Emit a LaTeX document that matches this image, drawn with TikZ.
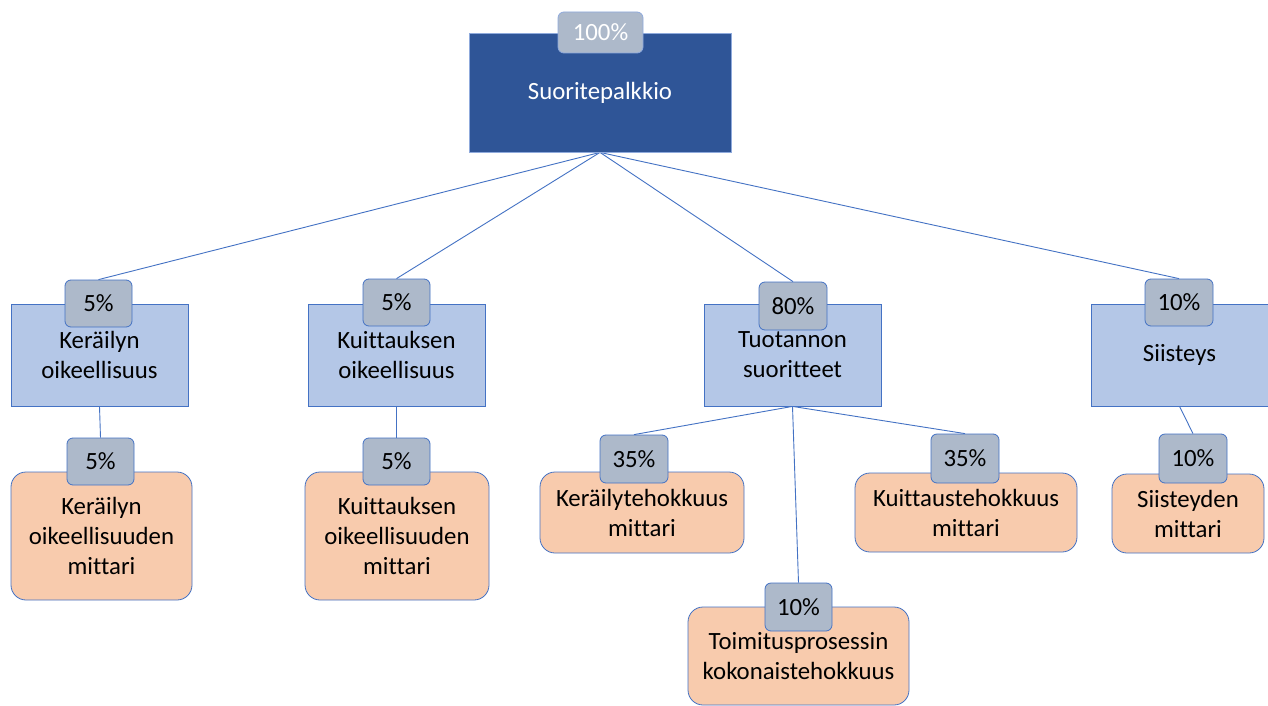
\documentclass[tikz,border=0pt]{standalone}
\usepackage{fontspec}
\setmainfont[Ligatures=NoCommon,RawFeature={-liga;-clig;-calt;-dlig}]{Carlito}
\usetikzlibrary{backgrounds}
\definecolor{darkblue}{HTML}{2F5597}
\definecolor{midblue}{HTML}{4472C4}
\definecolor{paleblue}{HTML}{B4C7E7}
\definecolor{lightedge}{HTML}{8FAADC}
\definecolor{badgegray}{HTML}{ADB9CA}
\definecolor{peach}{HTML}{F8CBAD}
\begin{document}
\begin{tikzpicture}[x=1pt,y=-1pt,
  every node/.style={inner sep=0pt,align=center,font=\fontsize{24.8}{30}\selectfont},
  topbox/.style={rectangle,fill=darkblue,draw=lightedge,line width=0.8pt,text=white,minimum width=262pt,minimum height=119pt},
  midbox/.style={rectangle,fill=paleblue,draw=midblue,line width=0.8pt,minimum width=177pt,minimum height=102pt},
  leafbox/.style={rectangle,rounded corners=15pt,fill=peach,draw=midblue,line width=0.8pt},
  badge/.style={rectangle,rounded corners=6pt,fill=badgegray,draw=midblue,line width=0.8pt,minimum width=67pt,minimum height=47pt},
  link/.style={draw=midblue,line width=0.9pt}]
\clip (0,0) rectangle (1268,706);

% boxes
\node[topbox] (top) at (600,92.5) {Suoritepalkkio};
\node[midbox] (ka) at (99.5,355) {Keräilyn\\oikeellisuus};
\node[midbox] (ku) at (396.5,355) {Kuittauksen\\oikeellisuus};
\node[midbox] (tu) at (792.5,355) {Tuotannon\\suoritteet};
\node[midbox] (si) at (1179.5,355) {Siisteys};
\node[leafbox,minimum width=181pt,minimum height=128pt] (kam) at (101.5,536) {Keräilyn\\oikeellisuuden\\mittari};
\node[leafbox,minimum width=184pt,minimum height=128pt] (kum) at (397,536) {Kuittauksen\\oikeellisuuden\\mittari};
\node[leafbox,minimum width=204pt,minimum height=81pt] (kte) at (642,512.5) {Keräilytehokkuus\\mittari};
\node[leafbox,minimum width=222pt,minimum height=79pt] (kute) at (966,512.5) {Kuittaustehokkuus\\mittari};
\node[leafbox,minimum width=221pt,minimum height=98pt] (tpk) at (798.5,656) {Toimitusprosessin\\kokonaistehokkuus};
\node[leafbox,minimum width=152pt,minimum height=79pt] (sim) at (1188,513.5) {Siisteyden\\mittari};

% weight badges
\node[badge,draw=lightedge,text=white,minimum width=85pt,minimum height=41pt] (ptop) at (600.5,32.5) {100\%};
\node[badge] (pka) at (98.5,303.5) {5\%};
\node[badge] (pku) at (396.5,302.5) {5\%};
\node[badge,minimum width=68pt,minimum height=48pt] (ptu) at (793,306) {80\%};
\node[badge,minimum width=68pt] (psi) at (1179,302.5) {10\%};
\node[badge] (pkam) at (100.5,461.5) {5\%};
\node[badge] (pkum) at (396.5,461.5) {5\%};
\node[badge,minimum width=68pt,minimum height=48pt] (pkte) at (634,459) {35\%};
\node[badge,minimum width=68pt,minimum height=49pt] (pkute) at (965,458.5) {35\%};
\node[badge,minimum height=48pt] (ptpk) at (798.5,607) {10\%};
\node[badge,minimum width=68pt,minimum height=49pt] (psim) at (1193,458.5) {10\%};

% white page and connectors, beneath the boxes
\begin{scope}[on background layer]
\fill[white] (0,0) rectangle (1268,706);
\path[link] (top.south) -- (pka.north);
\path[link] (top.south) -- (pku.north);
\path[link] (top.south) -- (ptu.north);
\path[link] (top.south) -- (psi.north);
\path[link] (ka.south) -- (pkam.north);
\path[link] (ku.south) -- (pkum.north);
\path[link] (tu.south) -- (pkte.north);
\path[link] (tu.south) -- (ptpk.north);
\path[link] (tu.south) -- (pkute.north);
\path[link] (si.south) -- (psim.north);
\end{scope}
\end{tikzpicture}
\end{document}
